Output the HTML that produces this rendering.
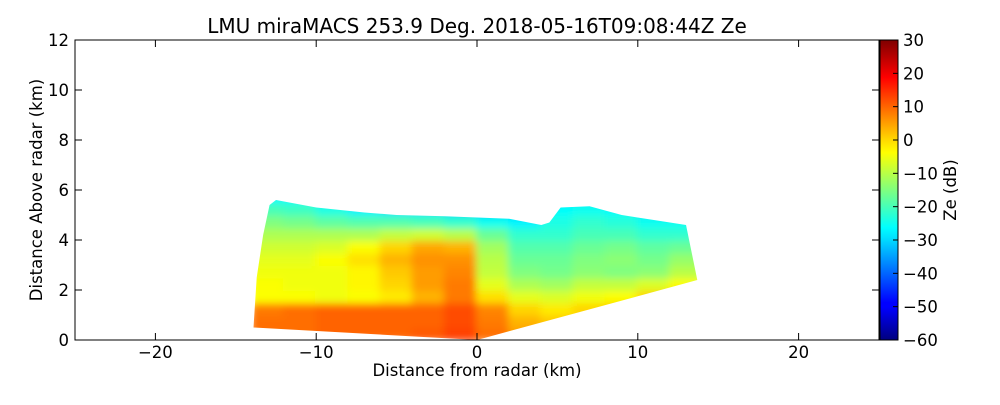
<!DOCTYPE html>
<html><head><meta charset="utf-8"><style>
body{margin:0;background:#fff;}
text{font-family:"DejaVu Sans","Liberation Sans",sans-serif;fill:#000;}
</style></head><body>
<svg id="c" width="1000" height="400" viewBox="0 0 1000 400">
<defs>
<filter id="bl" x="-5%" y="-5%" width="110%" height="110%"><feGaussianBlur stdDeviation="4"/></filter>
<linearGradient id="jet" x1="0" y1="1" x2="0" y2="0">
<stop offset="0" stop-color="#00007f"/><stop offset="0.11" stop-color="#0000ff"/><stop offset="0.125" stop-color="#0000ff"/>
<stop offset="0.34" stop-color="#00e0ff"/><stop offset="0.375" stop-color="#00ffff"/><stop offset="0.5" stop-color="#7fff7f"/>
<stop offset="0.625" stop-color="#ffff00"/><stop offset="0.66" stop-color="#ffe000"/><stop offset="0.875" stop-color="#ff0000"/><stop offset="1" stop-color="#7f0000"/>
</linearGradient>
<clipPath id="scan"><path id="scanpath"/></clipPath>
</defs>
<text x="477" y="33" font-size="20" text-anchor="middle">LMU miraMACS 253.9 Deg. 2018-05-16T09:08:44Z  Ze</text>
<g clip-path="url(#scan)"><g id="cells" filter="url(#bl)"></g></g>
<rect x="75" y="40" width="804" height="300" fill="none" stroke="#000" stroke-width="1"/>
<g id="axes"></g>
<rect x="880" y="40" width="18" height="300" fill="url(#jet)" stroke="#000" stroke-width="1"/>
<g id="cbticks"></g>
<text x="0" y="0" transform="translate(956,190) rotate(-90)" font-size="16.5" text-anchor="middle">Ze (dB)</text>
<text x="477" y="376" font-size="16.5" text-anchor="middle">Distance from radar (km)</text>
<text transform="translate(42,190) rotate(-90)" font-size="16.5" text-anchor="middle">Distance Above radar  (km)</text>
</svg>
<script>
const xTicks=[-20,-10,0,10,20];
const yTicks=[0,2,4,6,8,10,12];
const cbTicks=[30,20,10,0,-10,-20,-30,-40,-50,-60];
const gridX=[-13,-11,-9,-7,-5,-3,-1,1,3,5,7,9,11,13];
const gridY=[0.25,0.75,1.25,1.75,2.25,2.75,3.25,3.75,4.25,4.75,5.25,5.75];
const ze=[
[9,9,10,10,10,11,13,9,5,3,0,0,0,0],
[9,9,10,10,10,10,12,8,3,1,0,0,0,0],
[8,9,10,10,10,10,12,7,0,-2,0,1,2,2],
[-4,-4,-5,-4,-2,3,8,-1,-6,-7,-5,-4,0,2],
[-4,-5,-5,-3,0,5,8,-6,-11,-12,-9,-9,-7,-4],
[-5,-5,-5,-3,1,5,7,-9,-15,-16,-14,-15,-14,-10],
[-6,-6,-4,-1,3,6,6,-10,-17,-17,-15,-14,-16,-13],
[-8,-8,-7,-4,0,4,3,-12,-19,-19,-17,-16,-18,-17],
[-11,-11,-11,-11,-9,-8,-10,-17,-22,-22,-20,-20,-22,-22],
[-15,-16,-18,-19,-19,-20,-22,-25,-27,-24,-22,-23,-25,-25],
[-20,-21,-24,-27,-28,-28,-30,-32,-32,-26,-25,-26,-29,-29],
[-26,-26,-28,-30,-30,-30,-30,-30,-30,-28,-28,-28,-30,-30]];
const outlineX=[-13.9,-13.7,-13.3,-12.9,-12.5,-10,-7,-5,-2,0,2,4,4.5,5.2,7,9,11,13.0,13.7,0,-13.9];
const outlineY=[0.5,2.5,4.2,5.4,5.6,5.3,5.1,5.0,4.95,4.9,4.85,4.6,4.7,5.3,5.35,5.0,4.8,4.6,2.4,0,0.5];
const X=v=>477+v*16.08, Y=v=>340-v*25, CB=v=>340-(v+60)/90*300;
const ns='http://www.w3.org/2000/svg';
function jet(v){let t=Math.max(0,Math.min(1,(v+60)/90));
 const f=(a)=>Math.max(0,Math.min(1,1.5-Math.abs(4*t-a)));
 return `rgb(${Math.round(f(3)*255)},${Math.round(f(2)*255)},${Math.round(f(1)*255)})`;}
const cells=document.getElementById('cells');
gridY.forEach((gy,r)=>gridX.forEach((gx,c)=>{
 const e=document.createElementNS(ns,'rect');
 e.setAttribute('x',X(gx-1)-1);e.setAttribute('y',Y(gy+0.25)-1);
 e.setAttribute('width',16.08*2+2);e.setAttribute('height',12.5+2);
 e.setAttribute('fill',jet(ze[r][c]));
 
 
 cells.appendChild(e);}));
document.getElementById('scanpath').setAttribute('d',outlineX.map((x,i)=>(i?'L':'M')+X(x)+','+Y(outlineY[i])).join('')+'Z');
const ax=document.getElementById('axes');
function add(p,tag,at,txt){const e=document.createElementNS(ns,tag);for(const k in at)e.setAttribute(k,at[k]);if(txt!==undefined)e.textContent=txt;p.appendChild(e);return e;}
xTicks.forEach(t=>{const x=X(t);
 add(ax,'line',{x1:x,x2:x,y1:340,y2:333,stroke:'#000',});
 add(ax,'line',{x1:x,x2:x,y1:40,y2:47,stroke:'#000',});
 add(ax,'text',{x:x,y:358,'font-size':16.5,'text-anchor':'middle',},t<0?'\u2212'+(-t):''+t);});
yTicks.forEach(t=>{const y=Y(t);
 add(ax,'line',{x1:75,x2:82,y1:y,y2:y,stroke:'#000',});
 add(ax,'line',{x1:879,x2:872,y1:y,y2:y,stroke:'#000',});
 add(ax,'text',{x:69,y:y+6,'font-size':16.5,'text-anchor':'end',},''+t);});
const cb=document.getElementById('cbticks');
cbTicks.forEach(t=>{const y=CB(t);
 add(cb,'line',{x1:893,x2:898,y1:y,y2:y,stroke:'#000',});
 add(cb,'text',{x:903,y:y+6,'font-size':16.5,},t<0?'\u2212'+(-t):''+t);});
</script>
</body></html>
